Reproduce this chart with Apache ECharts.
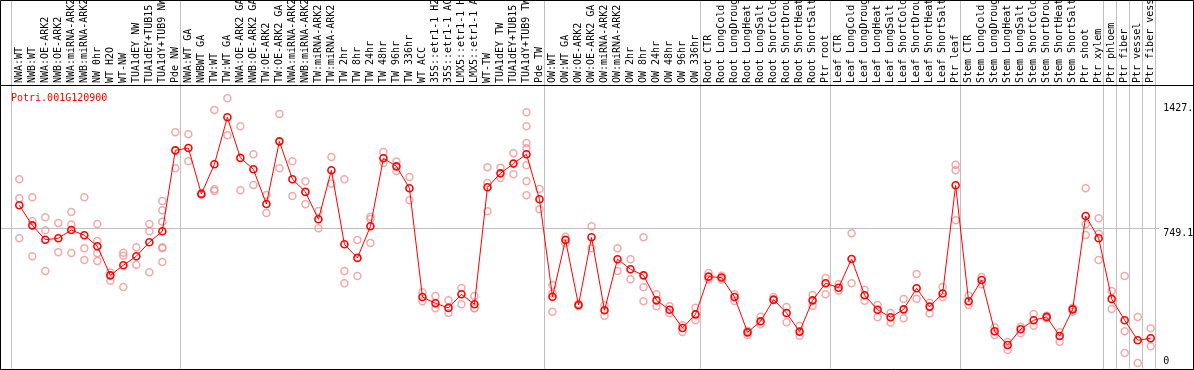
<!DOCTYPE html>
<html>
<head>
<meta charset="utf-8">
<script src="https://cdn.jsdelivr.net/npm/echarts/dist/echarts.min.js"></script>
<style>
html,body{margin:0;padding:0;background:#fff;}
#chart{width:1194px;height:370px;}
</style>
</head>
<body>
<div id="chart"></div>
<script>
const geneName = 'Potri.001G120900';

const categories = [
  'NWA:WT','NWB:WT','NWA:OE-ARK2','NWB:OE-ARK2','NWA:miRNA-ARK2','NWB:miRNA-ARK2','NW 0hr','WT H2O','WT-NW',
  'TUA1dEY NW','TUA1dEY+TUB15 NW','TUA1dY+TUB9 NW','Pde NW',
  'NWA:WT GA','NWBWT GA','TW:WT','TW:WT GA','NWA:OE-ARK2 GA','NWB:OE-ARK2 GA','TW:OE-ARK2','TW:OE-ARK2 GA',
  'NWA:miRNA-ARK2','NWB:miRNA-ARK2','TW:miRNA-ARK2','TW:miRNA-ARK2','TW 2hr','TW 8hr','TW 24hr','TW 48hr','TW 96hr','TW 336hr',
  'WT ACC','35S::etr1-1 H2O','35S::etr1-1 ACC','LMX5::etr1-1 H2O','LMX5::etr1-1 ACC','WT-TW','TUA1dEY TW','TUA1dEY+TUB15 TW','TUA1dY+TUB9 TW','Pde TW',
  'OW:WT','OW:WT GA','OW:OE-ARK2','OW:OE-ARK2 GA','OW:miRNA-ARK2','OW:miRNA-ARK2','OW 2hr','OW 8hr','OW 24hr','OW 48hr','OW 96hr','OW 336hr',
  'Root CTR','Root LongCold','Root LongDrought','Root LongHeat','Root LongSalt','Root ShortCold','Root ShortDrought','Root ShortHeat','Root ShortSalt','Ptr root',
  'Leaf CTR','Leaf LongCold','Leaf LongDrought','Leaf LongHeat','Leaf LongSalt','Leaf ShortCold','Leaf ShortDrought','Leaf ShortHeat','Leaf ShortSalt','Ptr leaf',
  'Stem CTR','Stem LongCold','Stem LongDrought','Stem LongHeat','Stem LongSalt','Stem ShortCold','Stem ShortDrought','Stem ShortHeat','Stem ShortSalt','Ptr shoot','Ptr xylem',
  'Ptr phloem','Ptr fiber','Ptr vessel','Ptr fiber vessel'
];

const means = [
  874,765,687,695,740,711,651,493,548,597,673,733,1173,
  1186,936,1097,1353,1132,1070,881,1222,1016,947,798,1065,662,588,760,1130,1086,967,
  375,341,316,390,336,972,1048,1101,1152,907,
  377,686,332,700,303,581,526,493,357,306,207,281,
  486,481,375,183,243,361,288,187,357,450,
  426,582,385,306,265,308,423,323,394,983,
  352,468,189,114,200,249,267,163,308,816,695,
  365,249,140,151
];

const replicates = [
  [1016,912,695],[918,789,597],[809,738,517],[778,619],[838,769,615],[918,640,577],[773,680,613,571],[508,464],[616,600,430],
  [646,551],[773,733,510],[898,847,785,646,640,566],[1271,1076],
  [1261,1114],[940,932],[1393,961,952],[1456,1255],[1304,956],[1152,985],[930,832],[1371,1076],
  [1114,925],[1005,880],[843,749],[1137,992],[1016,517,450],[686,490],[812,800,669],[1164,1104],[1112,1061],[1028,901],
  [401,352],[381,314],[357,288],[424,336],[381,314,314],[1081,996,842],[1079,1023],[1157,1043],[1380,1304,1213,1184,1092,1005,929],[963,853],
  [441,395,295],[703,668],[338,326],[760,640],[330,274],[640,517],[581,472],[700,428,352],[390,325],[325,287],[221,185],[317,249],
  [506,472],[491,470],[390,354],[192,169],[268,227],[375,357],[321,238],[219,165],[386,328],[479,390],
  [444,410],[722,450],[415,355],[332,265],[288,236],[365,260],[501,366],[344,285],[430,375],[1094,1065,793],
  [383,332],[484,444],[211,169],[131,87],[214,178],[283,219],[274,260],[183,132],[317,295],[967,771,713],[804,720,577],
  [408,310],[490,189,71],[267,16],[205,107]
];

const yTickValues = [749.1, 1427.0];
const yTickLabels = ['749.1', '1427.0'];
const yZeroLabel = '0';
const refLineValue = 749.1;
const groupEndsAfter = [-1, 12, 40, 52, 62, 72, 83, 84, 85, 86, 87];

const replicatePoints = [];
replicates.forEach((arr, i) => arr.forEach(v => replicatePoints.push([i, v])));

const FONT = 'DejaVu Sans Mono';
const chart = echarts.init(document.getElementById('chart'), null, {renderer: 'canvas'});

chart.setOption({
  animation: false,
  backgroundColor: '#fff',
  title: {
    text: geneName, left: 6, top: 88,
    textStyle: {color: '#ff0000', fontFamily: FONT, fontSize: 10, fontWeight: 'normal'}
  },
  grid: {left: 12.8, right: 36.8, top: 86, bottom: 4, containLabel: false, outerBoundsMode: 'none'},
  xAxis: {
    type: 'category', data: categories, position: 'top', boundaryGap: true,
    axisLine: {show: false}, axisTick: {show: false}, splitLine: {show: false},
    axisLabel: {interval: 0, rotate: 90, margin: 3, color: '#000', fontFamily: FONT, fontSize: 10}
  },
  yAxis: [{
    type: 'value', min: 0, max: 1523, position: 'right',
    axisLine: {show: false}, axisTick: {show: false}, splitLine: {show: false},
    axisLabel: {
      customValues: yTickValues, margin: 6, verticalAlign: 'top', color: '#000', fontFamily: FONT, fontSize: 10,
      formatter: v => yTickLabels[yTickValues.indexOf(v)] ?? String(v)
    }
  }, {
    type: 'value', min: 0, max: 1523, position: 'right',
    axisLine: {show: false}, axisTick: {show: false}, splitLine: {show: false},
    axisLabel: {
      customValues: [0], margin: 6, verticalAlign: 'bottom', color: '#000', fontFamily: FONT, fontSize: 10,
      formatter: () => yZeroLabel
    }
  }],
  series: [{
    type: 'scatter', data: replicatePoints, symbol: 'circle', symbolSize: 7, z: 2,
    itemStyle: {color: 'rgba(0,0,0,0)', borderColor: '#ef9393', borderWidth: 1.5}
  }, {
    type: 'line', data: means, symbol: 'circle', symbolSize: 7, z: 3,
    lineStyle: {color: '#ff0000', width: 1},
    itemStyle: {color: 'rgba(0,0,0,0)', borderColor: '#ff0000', borderWidth: 1.6}
  }]
});

const c0 = chart.convertToPixel({xAxisIndex: 0}, 0);
const c1 = chart.convertToPixel({xAxisIndex: 0}, 1);
const w = c1 - c0;
const gridRight = c0 + (categories.length - 0.5) * w;
const yRef = Math.round(chart.convertToPixel({yAxisIndex: 0}, refLineValue)) + 0.5;
const graphics = [];
groupEndsAfter.forEach(k => {
  const x = Math.round(c0 + (k + 0.5) * w - 2) + 0.5;
  graphics.push({type: 'line', z: -1, silent: true, shape: {x1: x, y1: 0, x2: x, y2: 370},
    style: {stroke: '#c0c0c0', lineWidth: 1}});
});
graphics.push({type: 'line', z: -1, silent: true, shape: {x1: 0, y1: yRef, x2: gridRight + 2, y2: yRef},
  style: {stroke: '#c0c0c0', lineWidth: 1}});
graphics.push({type: 'line', z: 1, silent: true, shape: {x1: 0, y1: 85.5, x2: 1194, y2: 85.5},
  style: {stroke: '#000', lineWidth: 1}});
graphics.push({type: 'rect', z: 1, silent: true, shape: {x: 0.5, y: 0.5, width: 1193, height: 369},
  style: {fill: 'none', stroke: '#000', lineWidth: 1}});
chart.setOption({graphic: graphics});
</script>
</body>
</html>
